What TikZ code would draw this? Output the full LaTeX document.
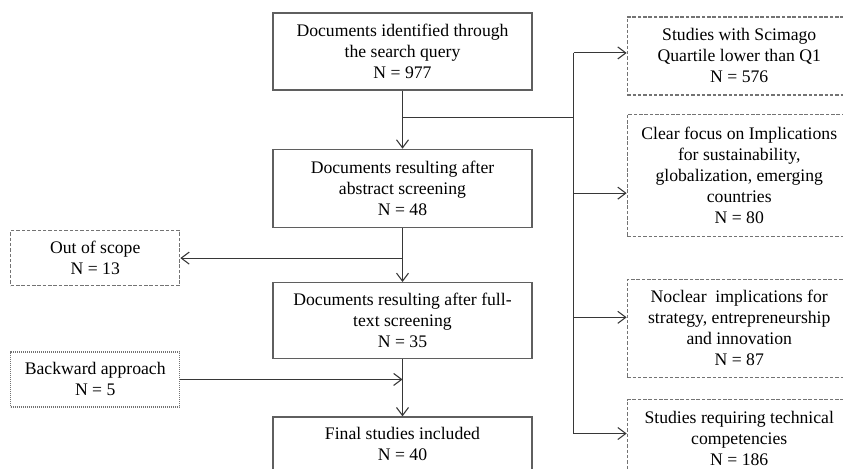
\documentclass[tikz,border=0pt]{standalone}
\usepackage{fontspec}
\setmainfont{Liberation Serif}
\usetikzlibrary{arrows.meta,positioning,calc}
\definecolor{ink}{RGB}{55,55,55}
\definecolor{edge}{RGB}{95,95,95}
\definecolor{dashgray}{RGB}{115,115,115}
\tikzset{
  txt/.style={align=center,inner sep=0pt,text=black,font=\fontsize{13.25}{15.75}\selectfont},
  mainbox/.style={txt,draw=edge,line width=1pt,minimum width=194.25pt},
  exbox/.style={txt,draw=dashgray,line width=0.9pt,dash pattern=on 2.6pt off 1.4pt},
  bwbox/.style={txt,draw=dashgray,line width=0.9pt,dash pattern=on 0.9pt off 0.6pt},
  arr/.style={-{Straight Barb[length=6pt,width=9pt]},draw=ink,line width=0.8pt},
  ln/.style={draw=ink,line width=0.8pt},
}
\begin{document}
\begin{tikzpicture}
  \useasboundingbox (0,0) rectangle (632.25pt,-351pt);
  \node[mainbox,minimum height=57.75pt] (search) at (301.875pt,-38.625pt)
    {Documents identified through\\the search query\\N = 977};
  \node[mainbox,minimum height=58.5pt,below=43.5pt of search] (abstract)
    {Documents resulting after\\abstract screening\\N = 48};
  \node[mainbox,minimum height=57pt,below=40.5pt of abstract] (fulltext)
    {Documents resulting after full-\\text screening\\N = 35};
  \node[mainbox,minimum height=39.75pt,below=42.75pt of fulltext] (final)
    {Final studies included\\N = 40};
  \node[exbox,minimum width=126.75pt,minimum height=41.25pt,anchor=north east] (scope)
    at ([xshift=-69pt,yshift=-1.5pt]abstract.south west) {Out of scope\\N = 13};
  \node[bwbox,minimum width=126.75pt,minimum height=41.25pt,anchor=north east] (backward)
    at ([xshift=-69pt,yshift=6pt]fulltext.south west) {Backward approach\\N = 5};
  \node[exbox,minimum width=168pt,minimum height=58.5pt,anchor=north west] (quartile)
    at ([xshift=70.5pt,yshift=-3pt]search.north east) {Studies with Scimago\\Quartile lower than Q1\\N = 576};
  \node[exbox,minimum width=168pt,minimum height=91.5pt,below=13.5pt of quartile] (focus)
    {Clear focus on Implications\\for sustainability,\\globalization, emerging\\countries\\N = 80};
  \node[exbox,minimum width=168pt,minimum height=73.5pt,below=31.5pt of focus] (noclear)
    {Noclear~ implications for\\strategy, entrepreneurship\\and innovation\\N = 87};
  \node[exbox,minimum width=168pt,minimum height=58.5pt,below=15.75pt of noclear] (technical)
    {Studies requiring technical\\competencies\\N = 186};
  \coordinate (fork) at ([yshift=-20.25pt]search.south);
  \coordinate (trunk) at ([xshift=30.75pt]search.east);
  \coordinate (qa) at ([yshift=2.25pt]quartile.west);
  \coordinate (fa) at ([yshift=-13.5pt]focus.west);
  \coordinate (na) at ([yshift=8.25pt]noclear.west);
  \coordinate (ta) at ([yshift=3.75pt]technical.west);
  \draw[arr] (search) -- (abstract);
  \draw[ln] (fork) -- (trunk |- fork);
  \draw[ln] (trunk |- qa) -- (trunk |- ta);
  \foreach \p in {qa,fa,na,ta} \draw[arr] (trunk |- \p) -- (\p);
  \draw[arr] (abstract) -- (fulltext);
  \draw[arr] (abstract.south |- scope.east) -- (scope.east);
  \draw[arr] (fulltext) -- (final);
  \draw[arr] (backward.east) -- (fulltext.south |- backward.east);
\end{tikzpicture}
\end{document}
